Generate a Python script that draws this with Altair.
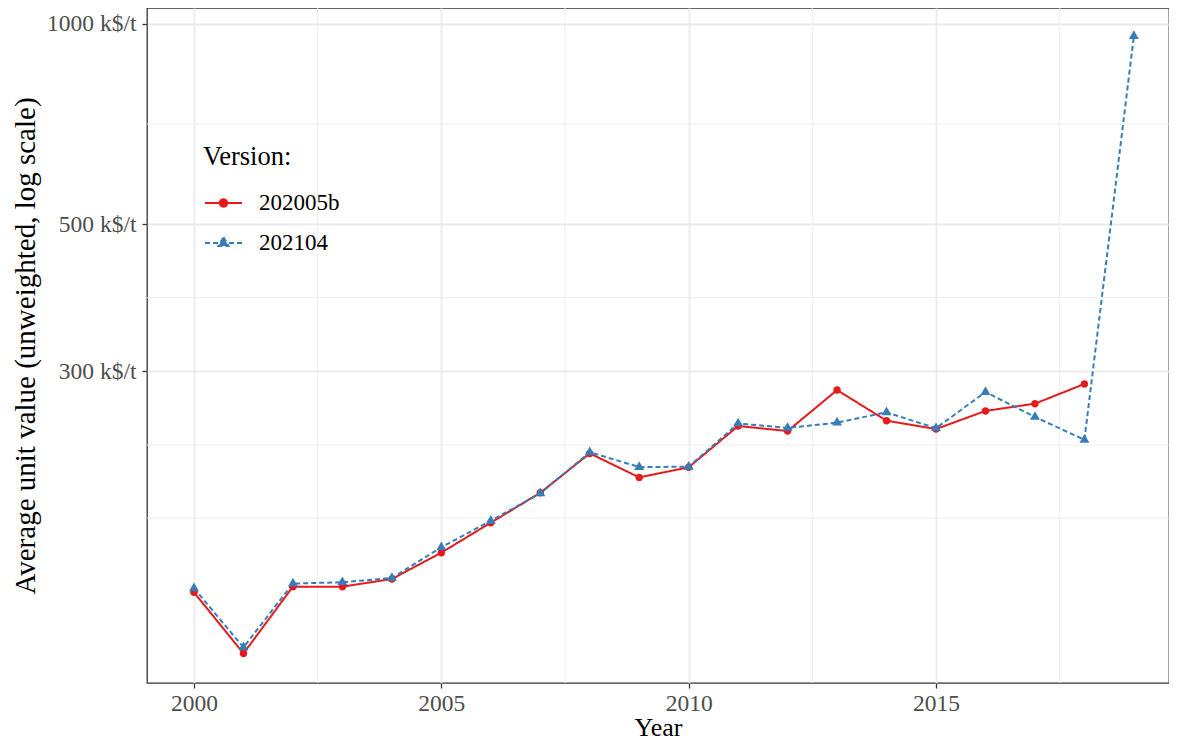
import altair as alt
import pandas as pd

years_a = list(range(2000, 2019))
vals_a = [139.5, 112.9, 142.3, 142.3, 146.1, 160.1, 177.6, 197.0, 225.8, 207.8,
          215.2, 248.3, 244.0, 281.2, 252.9, 245.7, 261.6, 268.3, 287.2]
years_b = list(range(2000, 2020))
vals_b = [141.5, 115.3, 143.8, 144.5, 146.6, 163.1, 178.8, 196.6, 226.7, 215.4,
          215.6, 250.5, 246.6, 251.2, 260.4, 246.4, 279.3, 256.2, 236.7, 959.2]
versions = ["202005b", "202104"]
colors = ["#E41A1C", "#377EB8"]

y_ticks = [300, 500, 1000]
y_minor = [180.4, 232.4, 387.3, 707.1]
x_ticks = [2000, 2005, 2010, 2015]
x_minor = [2002.5, 2007.5, 2012.5, 2017.5]

df = pd.concat([
    pd.DataFrame({"Year": years_a, "Value": vals_a, "Version": versions[0]}),
    pd.DataFrame({"Year": years_b, "Value": vals_b, "Version": versions[1]}),
])

FONT = "Liberation Serif"
xscale = alt.Scale(domain=[1999.05, 2019.71], nice=False, zero=False)
yscale = alt.Scale(type="log", domain=[101.9, 1057], nice=False)

# marker paths (triangle centred on its centroid like R's pch 17)
circle_path = "M0.75,0A0.75,0.75,0,1,1,-0.75,0A0.75,0.75,0,1,1,0.75,0Z"
tri_path = "M0,-1.155L1,0.577L-1,0.577Z"
# legend key paths: line through marker
leg_circle = "M-1.85,0H1.85M0.37,0A0.37,0.37,0,1,1,-0.37,0A0.37,0.37,0,1,1,0.37,0Z"
leg_tri = "M-1.85,0H1.85M0,-0.577L0.5,0.289L-0.5,0.289Z"
dashes = [[1, 0], [5, 3]]
marker_paths = [circle_path, tri_path]

XTITLE = "Year"
YTITLE = "Average unit value (unweighted, log scale)"
xaxis = alt.Axis(values=x_ticks, format="d", labelPadding=3, titlePadding=0, titleFontSize=26)
yaxis = alt.Axis(values=y_ticks, labelExpr="datum.value + ' k$/t'",
                 labelPadding=6, titlePadding=6, titleFontSize=29)

ygrid = alt.Chart(pd.DataFrame({"Value": y_minor})).mark_rule(
    color="#EDEDED", strokeWidth=1
).encode(y=alt.Y("Value:Q", scale=yscale, title=YTITLE, axis=yaxis))
xgrid = alt.Chart(pd.DataFrame({"Year": x_minor})).mark_rule(
    color="#EDEDED", strokeWidth=1
).encode(x=alt.X("Year:Q", scale=xscale, title=XTITLE, axis=xaxis))

base = alt.Chart(df)
xenc = alt.X("Year:Q", scale=xscale, title=XTITLE, axis=xaxis)
yenc = alt.Y("Value:Q", scale=yscale, title=YTITLE, axis=yaxis)

line_layers = []
point_layers = []
for ver, col, dash, path in zip(versions, colors, dashes, marker_paths):
    sub = base.transform_filter(alt.datum.Version == ver)
    line_layers.append(sub.mark_line(strokeWidth=2, color=col, strokeDash=dash).encode(x=xenc, y=yenc))
    point_layers.append(sub.mark_point(filled=True, size=100, opacity=1, shape=path, color=col)
                        .encode(x=xenc, y=yenc))

legend_layer = base.mark_point(filled=True, size=0, strokeWidth=2).encode(
    x=xenc, y=yenc,
    fill=alt.Fill("Version:N", scale=alt.Scale(domain=versions, range=colors), title="Version:"),
    stroke=alt.Stroke("Version:N", scale=alt.Scale(domain=versions, range=colors), title="Version:"),
    shape=alt.Shape("Version:N", scale=alt.Scale(domain=versions, range=[leg_circle, leg_tri]), title="Version:"),
    strokeDash=alt.StrokeDash("Version:N", scale=alt.Scale(domain=versions, range=dashes), title="Version:"),
)

chart = alt.layer(ygrid, xgrid, *line_layers, *point_layers, legend_layer).properties(
    width=1022, height=675,
    autosize=alt.AutoSizeParams(type="none"),
    padding={"left": 139, "top": 0, "right": 0, "bottom": 59},
).configure_view(
    stroke="#333333", strokeWidth=1.3
).configure_axis(
    grid=True, gridColor="#EBEBEB", gridWidth=1.8, domain=False,
    tickColor="#333333", tickSize=5, tickWidth=1.3,
    labelFont=FONT, labelFontSize=23.5, labelColor="#4D4D4D",
    titleFont=FONT, titleColor="#000000", titleFontWeight="normal",
).configure_legend(
    orient="none", legendX=56, legendY=136, padding=0,
    titleFont=FONT, titleFontSize=26.5, titleFontWeight="normal", titleColor="#000000",
    titlePadding=21, labelFont=FONT, labelFontSize=23, labelColor="#000000",
    symbolSize=400, symbolStrokeWidth=2, symbolOffset=9, labelOffset=24, rowPadding=16,
    symbolOpacity=1,
)

chart.save("out.html", embed_options={"renderer": "svg", "actions": False})
